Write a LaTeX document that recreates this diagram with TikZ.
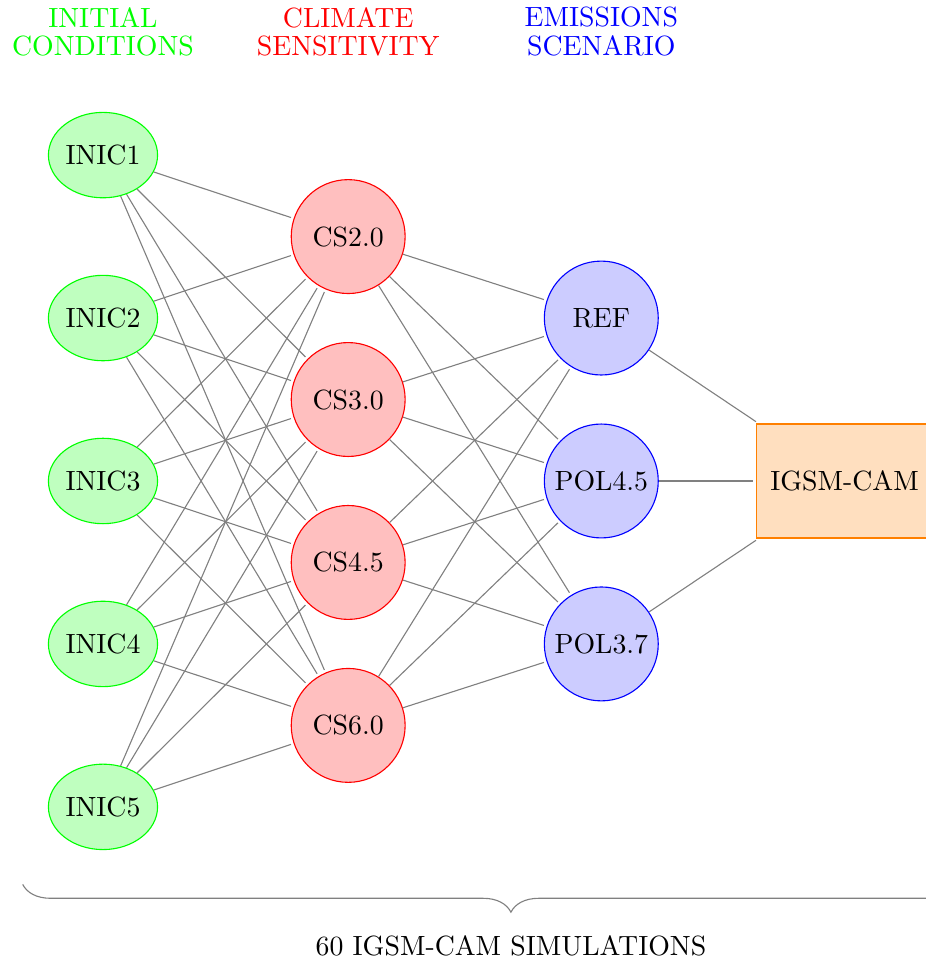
\documentclass[tikz,border=0pt]{standalone}
\usepackage{tikz}
\usetikzlibrary{shapes.geometric,decorations.pathreplacing}
\tikzset{
  initnode/.style={ellipse,draw=green,fill=green!25,inner sep=0pt,minimum width=1.38cm,minimum height=1.08cm},
  csnode/.style={circle,draw=red,fill=red!25,inner sep=0pt,minimum size=1.44cm},
  scennode/.style={circle,draw=blue,fill=blue!20,inner sep=0pt,minimum size=1.44cm},
  modelbox/.style={rectangle,draw=orange,line width=0.6pt,fill=orange!25,inner xsep=5pt,minimum height=1.44cm},
  link/.style={draw=gray,shorten >=1pt},
  bracket/.style={draw=gray,decorate,decoration={brace,mirror,amplitude=10pt}}
}
\begin{document}
\begin{tikzpicture}
  \useasboundingbox (-1.302,-6.056) rectangle (10.405,6.081);
  % column headers
  \node[text=green] (HIC) at (0,5.68) {\shortstack{INITIAL\\CONDITIONS}};
  \node[text=red] (HCS) at (3.10,5.68) {\shortstack{CLIMATE\\SENSITIVITY}};
  \node[text=blue] (HES) at (6.30,5.68) {\shortstack{EMISSIONS\\SCENARIO}};

  \node[initnode] (IC1) at (0,4.12) {INIC1};
  \node[initnode] (IC2) at (0,2.06) {INIC2};
  \node[initnode] (IC3) at (0,0) {INIC3};
  \node[initnode] (IC4) at (0,-2.06) {INIC4};
  \node[initnode] (IC5) at (0,-4.12) {INIC5};

  \node[csnode] (CS20) at (3.10,3.09) {CS2.0};
  \node[csnode] (CS30) at (3.10,1.03) {CS3.0};
  \node[csnode] (CS45) at (3.10,-1.03) {CS4.5};
  \node[csnode] (CS60) at (3.10,-3.09) {CS6.0};

  \node[scennode] (REF) at (6.30,2.06) {REF};
  \node[scennode] (POL45) at (6.30,0) {POL4.5};
  \node[scennode] (POL37) at (6.30,-2.06) {POL3.7};

  \node[modelbox,anchor=west] (GCM) at (8.25,0) {IGSM-CAM};

  \draw[link] (IC1)--(CS20); \draw[link] (IC1)--(CS30); \draw[link] (IC1)--(CS45); \draw[link] (IC1)--(CS60);
  \draw[link] (IC2)--(CS20); \draw[link] (IC2)--(CS30); \draw[link] (IC2)--(CS45); \draw[link] (IC2)--(CS60);
  \draw[link] (IC3)--(CS20); \draw[link] (IC3)--(CS30); \draw[link] (IC3)--(CS45); \draw[link] (IC3)--(CS60);
  \draw[link] (IC4)--(CS20); \draw[link] (IC4)--(CS30); \draw[link] (IC4)--(CS45); \draw[link] (IC4)--(CS60);
  \draw[link] (IC5)--(CS20); \draw[link] (IC5)--(CS30); \draw[link] (IC5)--(CS45); \draw[link] (IC5)--(CS60);
  \draw[link] (CS20)--(REF); \draw[link] (CS20)--(POL45); \draw[link] (CS20)--(POL37);
  \draw[link] (CS30)--(REF); \draw[link] (CS30)--(POL45); \draw[link] (CS30)--(POL37);
  \draw[link] (CS45)--(REF); \draw[link] (CS45)--(POL45); \draw[link] (CS45)--(POL37);
  \draw[link] (CS60)--(REF); \draw[link] (CS60)--(POL45); \draw[link] (CS60)--(POL37);
  \draw[link] (REF)--(GCM); \draw[link] (POL45)--(GCM); \draw[link] (POL37)--(GCM);

  % brace under everything
  \coordinate (BL) at (-1.015,-5.1);
  \coordinate (BR) at (11.33,-5.1);
  \draw[bracket] (BL) -- (BR) node[midway,below=15pt,text=black] (SIMS) {60 IGSM-CAM SIMULATIONS};
\end{tikzpicture}
\end{document}
